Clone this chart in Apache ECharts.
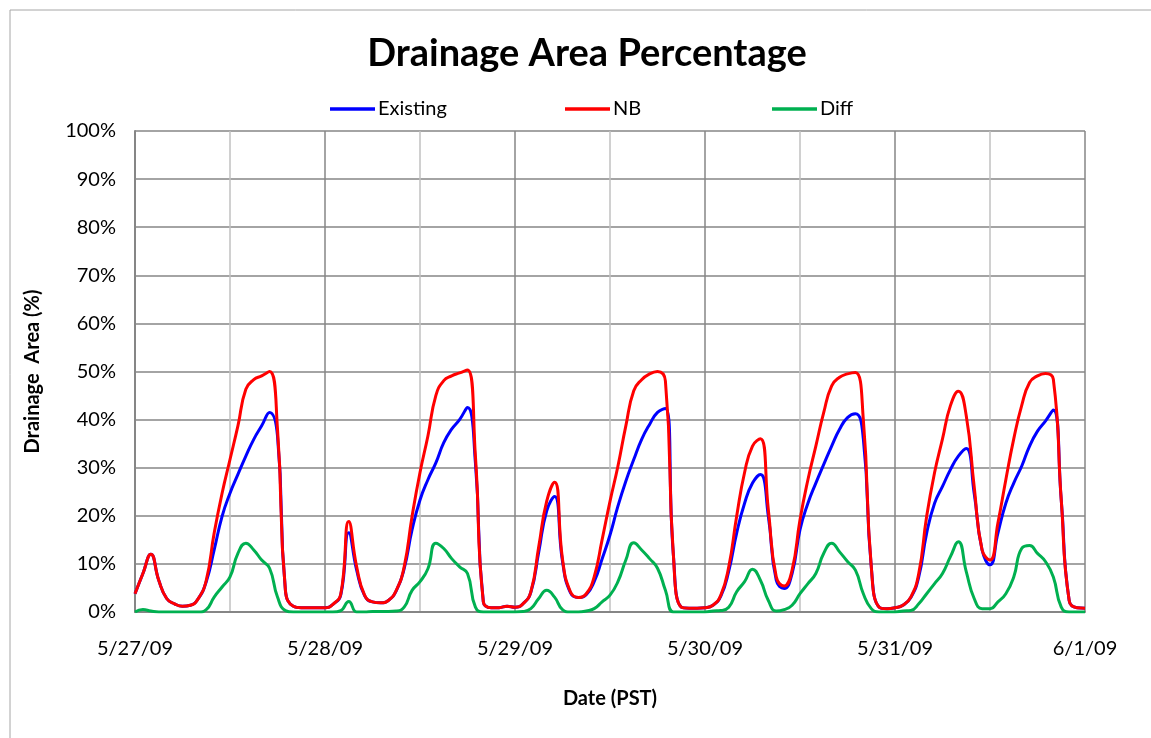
<!DOCTYPE html>
<html>
<head>
<meta charset="utf-8">
<script src="https://cdn.jsdelivr.net/npm/echarts@6/dist/echarts.min.js"></script>
<style>html,body{margin:0;padding:0;background:#fff;}#c{width:1151px;height:738px;}</style>
</head>
<body>
<div id="c"></div>
<script>
// Hourly samples starting 5/27/09 00:00 PST (index = hours)
const dayLabels = ['5/27/09', '5/28/09', '5/29/09', '5/30/09', '5/31/09', '6/1/09'];
const yTicks = [0, 10, 20, 30, 40, 50, 60, 70, 80, 90, 100];
const existing = [
  3.8, 8, 12, 6.6, 2.8, 1.7, 1.2, 1.4, 2.8, 6.3, 12.9, 19.9, 24.7, 28.6, 32.4, 35.9, 38.7, 41.5, 36.6, 4.5, 1.2, 0.9, 0.9, 0.9,
  0.9, 1.6, 3.6, 16.5, 8.7, 3.4, 2.1, 1.9, 2.4, 4.4, 9, 17.1, 23.3, 27.5, 31, 35.2, 38, 40, 42.5, 31, 2.1, 0.9, 0.9, 1.2,
  1, 1.7, 4.1, 12.5, 21, 24, 10.5, 4, 3, 3.6, 6.3, 11, 16, 22, 27.2, 31.7, 35.9, 39, 41.5, 42.3, 12, 1, 0.8, 0.8,
  0.9, 1.4, 3.3, 8.5, 16.4, 22.6, 26.8, 28.6, 19.9, 6.6, 4.9, 8, 17.1, 22.6, 26.8, 30.7, 34.5, 38, 40.4, 41.2, 36, 9.5, 1, 0.7,
  0.9, 1.4, 3, 7.3, 16.4, 22.6, 26.1, 29.6, 32.4, 34, 24.7, 12.9, 9.8, 16.4, 22.6, 26.8, 30.3, 34.5, 37.6, 39.7, 42, 23.3, 2.4, 0.9,
  0.8
];
const nb = [
  3.8, 8, 12, 6.6, 2.8, 1.7, 1.2, 1.4, 2.8, 6.6, 16.4, 24.7, 31.7, 38.7, 46.3, 48.3, 49.1, 50, 38, 4.5, 1.2, 0.9, 0.9, 0.9,
  0.9, 1.6, 3.8, 18.8, 9.4, 3.5, 2.1, 1.9, 2.4, 4.5, 9.4, 19.9, 29, 36.6, 45, 48.1, 49.1, 49.7, 50.3, 32.4, 2.1, 0.9, 0.9, 1.2,
  1, 1.7, 4.2, 13.6, 23, 27, 11, 4.2, 3, 3.8, 7.3, 15, 23, 30.3, 38.7, 46, 48.3, 49.5, 50, 48, 12, 1, 0.8, 0.8,
  0.9, 1.4, 3.5, 9.4, 19.9, 29, 34.5, 36, 21.3, 7.3, 5.4, 8.7, 19.2, 27.5, 34.5, 41.5, 47, 48.8, 49.5, 49.8, 40, 9.5, 1, 0.7,
  0.9, 1.4, 3.1, 8, 19.9, 29, 36, 42.9, 45.9, 40.8, 26.1, 12.9, 10.8, 18.5, 27.5, 36, 42.9, 47.7, 49.1, 49.6, 48.4, 23.3, 2.4, 0.9,
  0.8
];
const diff = [
  0, 0.5, 0.2, 0, 0, 0, 0, 0, 0, 0.5, 3.1, 5.2, 7.3, 12.2, 14.3, 12.9, 10.8, 9.1, 3.1, 0.3, 0, 0, 0, 0,
  0, 0, 0.3, 2.2, 0, 0, 0.1, 0.1, 0.1, 0.2, 1, 4.5, 6.3, 9, 14.3, 13.2, 11.1, 9.4, 8, 1, 0, 0, 0, 0,
  0, 0.1, 0.7, 2.8, 4.5, 3.1, 0.5, 0, 0, 0.2, 0.7, 2.1, 3.5, 6.3, 10.8, 14.4, 12.9, 11.1, 9.1, 4.5, 0, 0, 0, 0,
  0, 0.2, 0.3, 1, 4.2, 6.3, 8.9, 6.6, 2.4, 0.2, 0.5, 1.4, 3.8, 5.9, 8, 12.2, 14.3, 12.5, 10.5, 8.7, 3.8, 0.7, 0, 0,
  0, 0.2, 0.3, 1.7, 3.8, 5.9, 8, 11.5, 14.6, 8.4, 2.8, 0.7, 0.7, 2.1, 3.8, 7.3, 13.2, 13.8, 12.2, 10.5, 7.3, 1, 0, 0,
  0
];

const toPairs = arr => arr.map((v, i) => [i, v]);
const font = 'Lato, "Open Sans", sans-serif';

const chart = echarts.init(document.getElementById('c'), null, {renderer: 'canvas'});
chart.setOption({
  backgroundColor: '#fff',
  animation: false,
  graphic: [{
    type: 'rect', left: 7.5, top: 7.5, silent: true,
    shape: {x: 0, y: 0, width: 1300, height: 900},
    style: {fill: 'none', stroke: '#a6a6a6', lineWidth: 1}
  }],
  title: {
    text: 'Drainage Area Percentage',
    left: 582, top: 30, textAlign: 'center',
    textStyle: {fontFamily: font, fontWeight: 'bold', fontSize: 38, color: '#000'}
  },
  legend: [
    {data: ['Existing'], left: 330, top: 99},
    {data: ['NB'], left: 565, top: 99},
    {data: ['Diff'], left: 772, top: 99}
  ].map(l => Object.assign(l, {
    padding: 0, icon: 'rect',
    itemWidth: 45, itemHeight: 3.5, itemGap: 4,
    textStyle: {fontFamily: font, fontSize: 20, color: '#000', padding: [0, 0, 0, -2]}
  })),
  grid: {left: 135, right: 66, top: 131, bottom: 126, containLabel: false},
  xAxis: {
    type: 'value', min: 0, max: 120, interval: 12,
    name: 'Date (PST)', nameLocation: 'middle', nameGap: 77,
    nameTextStyle: {fontFamily: font, fontWeight: 'bold', fontSize: 20, color: '#000'},
    axisLine: {show: true, lineStyle: {color: '#868686', width: 2}},
    axisTick: {show: false},
    axisLabel: {
      margin: 27, fontFamily: font, fontSize: 20, color: '#000',
      formatter: v => (v % 24 === 0 ? dayLabels[v / 24] : '')
    },
    splitLine: {show: true, lineStyle: {color: ['#868686', '#c0c0c0'], width: 1.5}}
  },
  yAxis: {
    type: 'value', min: yTicks[0], max: yTicks[yTicks.length - 1], interval: 10,
    name: 'Drainage  Area (%)', nameLocation: 'middle', nameGap: 92,
    nameTextStyle: {fontFamily: font, fontWeight: 'bold', fontSize: 20, color: '#000'},
    axisLine: {show: true, lineStyle: {color: '#868686', width: 2}},
    axisTick: {show: false},
    axisLabel: {margin: 19, fontFamily: font, fontSize: 20, color: '#000', formatter: '{value}%'},
    splitLine: {show: true, lineStyle: {color: '#868686', width: 1.5}}
  },
  series: [
    {name: 'Existing', type: 'line', data: toPairs(existing), smooth: 0.5, symbol: 'none',
     lineStyle: {color: '#0000ff', width: 3}, itemStyle: {color: '#0000ff'}},
    {name: 'NB', type: 'line', data: toPairs(nb), smooth: 0.5, symbol: 'none',
     lineStyle: {color: '#ff0000', width: 3}, itemStyle: {color: '#ff0000'}},
    {name: 'Diff', type: 'line', data: toPairs(diff), smooth: 0.5, symbol: 'none',
     lineStyle: {color: '#00b050', width: 3}, itemStyle: {color: '#00b050'}}
  ]
});
</script>
</body>
</html>
